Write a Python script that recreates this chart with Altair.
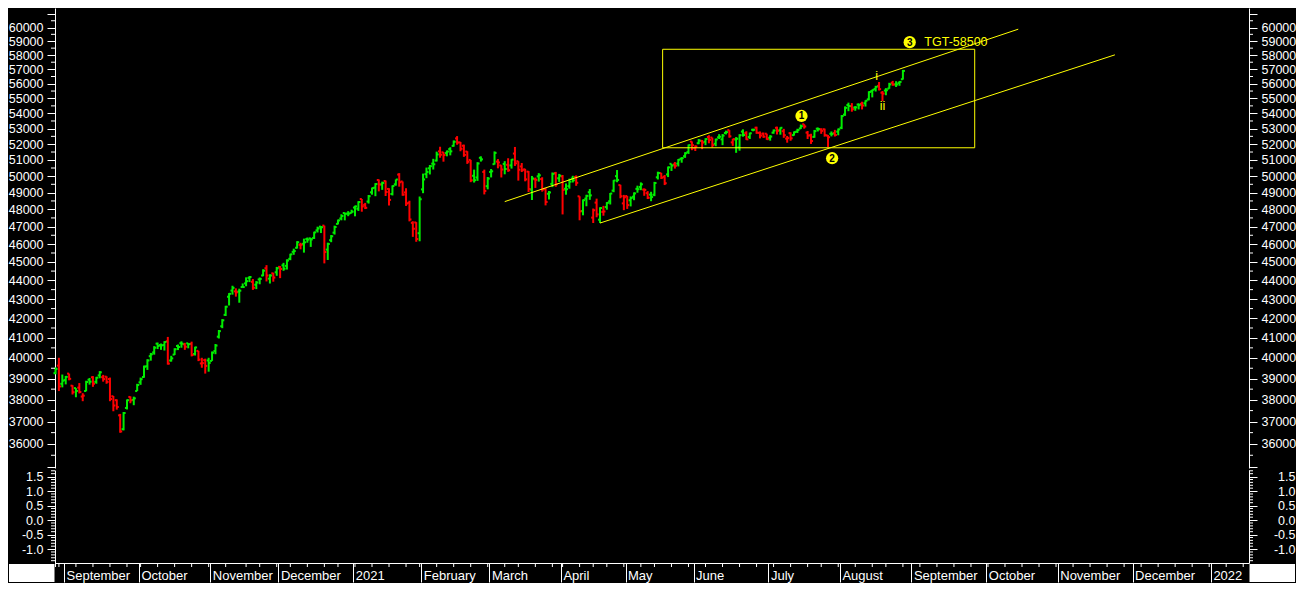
import altair as alt
import numpy as np
import pandas as pd

# ---------------- daily OHLC, 28 Aug 2020 .. 30 Aug 2021 ----------------
OPEN = [
    39264, 39627,
    38754, 38933, 39241, 38665, 38550, 38571, 38152, 38412, 38945, 39065, 38847, 39155, 39071, 39095, 38980, 38167, 37984, 37283, 36655, 37622, 38134, 37997,
    38410, 38823, 39078, 39599, 40090, 40275, 40709, 40640, 40640, 40830, 39877, 40167, 40595, 40731, 40677, 40726, 40703, 40197, 40351, 39734, 39896,
    39880, 39858, 40344, 41060, 41587, 42174, 43121, 43449, 43408, 43398, 43637, 43834, 44130, 43919, 43763, 44046, 44261, 44656, 44091, 44377,
    44436, 44733, 44818, 44786, 45175, 45563, 45793, 45958, 46013, 46284, 46325, 46348, 46780, 46996, 47055, 45689, 46222, 46650, 47154, 47466, 47789, 47753,
    47785, 48109, 48037, 48616, 48268, 48464, 49016, 49299, 49764, 49492, 49702, 49221, 48917, 49500, 50096, 49673, 49011, 48392, 47216, 47237,
    46617, 49193, 50122, 50483, 50772, 50965, 51544, 51483, 51433, 51685, 51893, 52368, 52114, 51898, 51530, 51003, 50020, 49917, 51138, 50257,
    49387, 50258, 50740, 50900, 50660, 50753, 50701, 50663, 51404, 50923, 50597, 50416, 50277, 49179, 49807, 49986, 49819, 49223, 48930, 49525, 50183,
    49868, 49982, 49229, 49386, 49848, 49949, 48778, 47900, 48640, 49022, 47519, 48401, 47397, 47854, 48142, 48480, 49119, 49998, 49452,
    48356, 48793, 48540, 48754, 49224, 49336, 49179, 48965, 48878, 48869, 49928, 50180, 49956, 50104, 50761, 50723, 50771, 51077, 51239, 51494,
    52163, 51741, 52059, 52211, 52151, 52460, 52422, 52020, 52441, 52307, 52715, 52902, 52113, 52302, 51793, 52808, 52708, 52458, 52924, 53057, 52726, 52671,
    52672, 52404, 52740, 53054, 52890, 52833, 52356, 52706, 52579, 52809, 53012, 53284, 52741, 52567, 52466, 52994, 52946, 52960, 52549, 52665, 52711,
    52805, 53058, 53921, 54557, 54480, 54386, 54587, 54641, 54676, 54940, 55493, 55647, 55855, 55389, 55537, 55670, 56060, 55958, 56049, 56312,
]
HIGH = [
    39542, 40010,
    39196, 39128, 39241, 38686, 38550, 38788, 38310, 38899, 39033, 39120, 39086, 39360, 39180, 39112, 39051, 38177, 38020, 37349, 37437, 38016, 38161, 38147,
    38753, 39050, 39630, 39939, 40250, 40585, 40764, 40717, 40833, 41048, 40108, 40481, 40666, 40827, 40750, 40734, 40810, 40557, 40352, 40010, 39968,
    40011, 40321, 40692, 41397, 41954, 42645, 43316, 43708, 43569, 43549, 43831, 44161, 44231, 44069, 43958, 44151, 44601, 44826, 44331, 44411,
    44730, 44777, 44953, 45148, 45458, 45742, 46164, 46073, 46309, 46373, 46350, 46705, 46992, 47026, 47055, 46080, 46513, 47053, 47406, 47714, 47807, 47897,
    47980, 48221, 48486, 48616, 48384, 48855, 49303, 49569, 49795, 49663, 49730, 49264, 49435, 49795, 50184, 49673, 49263, 48513, 47306, 47256,
    48764, 50154, 50526, 50687, 51073, 51523, 51835, 51499, 51598, 51804, 52236, 52516, 52141, 51969, 51552, 51003, 50401, 50863, 51228, 50400,
    49945, 50439, 51539, 51058, 50677, 50926, 51108, 51050, 51822, 50927, 50813, 50450, 50312, 50011, 49913, 50184, 49931, 49272, 49095, 50224, 50260,
    50136, 50071, 49553, 49844, 50020, 50045, 48778, 48590, 48867, 49218, 48051, 48637, 48127, 48210, 48431, 48975, 49757, 50375, 49470,
    48861, 48793, 48771, 49013, 49418, 49617, 49250, 49087, 49049, 49649, 50273, 50200, 50066, 50591, 50761, 50871, 51063, 51178, 51489, 51978,
    52174, 51929, 52328, 52269, 52378, 52577, 52422, 52352, 52641, 52646, 52869, 52902, 52342, 52452, 52636, 52954, 52831, 52741, 52993, 53127, 52815, 52746,
    52672, 52576, 52946, 53129, 53086, 52985, 52526, 52759, 52818, 52991, 53266, 53290, 52849, 52668, 52915, 53073, 53024, 53000, 52591, 52817, 52920,
    53008, 53888, 54465, 54717, 54686, 54486, 54671, 54780, 54874, 55488, 55605, 55854, 56118, 55503, 55700, 56065, 56198, 56174, 56193, 56958,
]
LOW = [
    39208, 38410,
    38584, 38726, 38919, 38248, 38119, 38298, 37935, 38402, 38715, 38610, 38756, 39018, 38857, 38755, 37935, 37470, 37545, 36495, 36600, 37553, 37840, 37749,
    38410, 38705, 39042, 39420, 39870, 40163, 40441, 40403, 40368, 39675, 39822, 40145, 40391, 40508, 40402, 40479, 40077, 40121, 39846, 39525, 39242,
    39334, 39858, 40186, 40969, 41491, 42114, 42663, 43233, 43128, 42806, 43609, 43681, 43905, 43485, 43527, 43787, 44219, 43939, 43827, 43926,
    44244, 44118, 44516, 44585, 45100, 45399, 45750, 45706, 45520, 46078, 45841, 46290, 46658, 46627, 44923, 45112, 46107, 46539, 47124, 47361, 47359, 47602,
    47771, 47594, 47904, 47864, 48020, 48344, 48873, 48784, 49073, 49165, 48795, 48229, 48829, 49418, 49357, 48809, 48204, 47300, 46410, 46130,
    46160, 48964, 49874, 50103, 50407, 50907, 51142, 50894, 51230, 51290, 51838, 51962, 51550, 51197, 50756, 49631, 49607, 49709, 50899, 48890,
    49196, 49920, 50715, 50481, 49918, 50111, 50267, 50464, 50628, 49725, 50251, 49682, 49036, 48556, 49283, 49663, 49056, 48236, 48588, 49331, 49353,
    49645, 47705, 48872, 49234, 49610, 49409, 47362, 47653, 48185, 48566, 47204, 47538, 47203, 47629, 47983, 48289, 49022, 49626, 48658,
    47955, 48028, 48176, 48544, 48991, 49145, 48807, 48614, 48485, 48786, 49794, 49824, 49454, 49942, 50318, 50465, 50598, 50830, 51133, 51380,
    51617, 51564, 51999, 51681, 51935, 52054, 51787, 51870, 52331, 51937, 52624, 52414, 51891, 51450, 51584, 52478, 52270, 52331, 52826, 52666, 52369, 52405,
    52276, 52223, 52670, 52621, 52607, 52407, 52094, 52219, 52546, 52718, 52972, 53000, 52331, 52013, 52410, 52817, 52663, 52478, 51802, 52498, 52488,
    52569, 52967, 53836, 54146, 54112, 54172, 54263, 54263, 54456, 54870, 55072, 55468, 55540, 54823, 55216, 55657, 55861, 55778, 55860, 56287,
]
CLOSE = [
    39467, 38628,
    38900, 39086, 38991, 38357, 38417, 38365, 38194, 38840, 38855, 38757, 39044, 39303, 38980, 38845, 38034, 37734, 37668, 36553, 37389, 37982, 37973, 38068,
    38697, 38974, 39574, 39879, 40183, 40509, 40594, 40626, 40795, 39728, 39983, 40432, 40544, 40708, 40558, 40686, 40146, 40522, 39922, 39750, 39614,
    39758, 40261, 40616, 41340, 41893, 42597, 43278, 43594, 43357, 43443, 43638, 43953, 44180, 43600, 43882, 44077, 44523, 44260, 44260, 44150,
    44655, 44618, 44632, 45080, 45426, 45608, 46103, 45960, 46099, 46253, 46263, 46666, 46890, 46961, 45554, 46007, 46444, 46973, 47354, 47613, 47746, 47751,
    47868, 48177, 48437, 48174, 48093, 48782, 49269, 49517, 49492, 49584, 49035, 48564, 49398, 49792, 49625, 48879, 48348, 47410, 46874, 46286,
    48601, 49798, 50256, 50614, 50732, 51349, 51329, 51309, 51532, 51544, 52154, 52104, 51704, 51324, 50890, 49744, 49751, 50781, 51039, 49100,
    49850, 50297, 51445, 50846, 50405, 50441, 50363, 51025, 50792, 50395, 50363, 49801, 49216, 49858, 49771, 50051, 49180, 48440, 49009, 50137, 49509,
    50030, 49159, 49202, 49662, 49746, 49591, 47883, 48544, 48804, 48832, 47949, 47706, 48080, 47878, 48387, 48944, 49734, 49766, 48782,
    48718, 48254, 48677, 48950, 49206, 49502, 49162, 48690, 48733, 49581, 50193, 49903, 49565, 50540, 50651, 50638, 51018, 51115, 51423, 51937,
    51935, 51849, 52232, 52100, 52328, 52275, 51941, 52300, 52474, 52551, 52773, 52501, 52323, 52344, 52574, 52588, 52306, 52699, 52925, 52735, 52549, 52482,
    52318, 52485, 52880, 52861, 53055, 52569, 52386, 52373, 52770, 52905, 53159, 53140, 52553, 52198, 52837, 52976, 52852, 52579, 52444, 52654, 52587,
    52951, 53823, 54370, 54493, 54278, 54403, 54555, 54526, 54844, 55437, 55582, 55792, 55629, 55329, 55555, 55958, 55944, 55949, 56125, 56890,
]

HOLIDAYS = ["2020-10-02", "2020-11-16", "2020-11-30", "2020-12-25", "2021-01-26",
            "2021-03-11", "2021-03-29", "2021-04-02", "2021-04-14", "2021-04-21",
            "2021-05-13", "2021-07-21", "2021-08-19"]
SPECIAL_SESSIONS = ["2020-11-14"]
MONTH_NAMES = ["January", "February", "March", "April", "May", "June", "July",
               "August", "September", "October", "November", "December"]

PRICE_MAJOR = list(range(35000, 61001, 1000))
PRICE_MINOR = list(range(35500, 61000, 1000))
LOW_MAJOR = [-1.0, -0.5, 0.0, 0.5, 1.0, 1.5]
LOW_MINOR = [-1.4, -1.3, -1.2, -1.1, -0.9, -0.8, -0.7, -0.6, -0.4, -0.3, -0.2, -0.1,
             0.1, 0.2, 0.3, 0.4, 0.6, 0.7, 0.8, 0.9, 1.1, 1.2, 1.3, 1.4, 1.6, 1.7]

# drawn trend channel, target box and wave labels (bar index, price)
LINE_NAMES = ["upper", "upper", "lower", "lower"]
LINE_X = [132.0, 282.9, 160.0, 311.3]
LINE_Y = [48460, 59878, 47203, 58022]
BOX_X = [178.4, 270.1]
BOX_Y = [51770, 58420]
WAVE_LABELS = ["1", "2", "3"]
WAVE_X = [219.2, 228.2, 251.0]
WAVE_Y = [53830, 51110, 58932]
NOTE_TEXT = ["TGT-58500", "i", "ii"]
NOTE_X = [255.3, 241.3, 243.0]
NOTE_Y = [58932, 56563, 54520]

GREEN, RED, YELLOW = "#00ee00", "#ff0000", "#ffff00"
FONT = "Liberation Sans, Arial, sans-serif"
W, H1, H2 = 1194, 460, 93
XMIN, XMAX = -0.15, 350.7

# ---------------- trading-day calendar ----------------
hol = set(HOLIDAYS)
past = [d for d in pd.bdate_range("2020-08-28", "2021-08-31") if d.strftime("%Y-%m-%d") not in hol]
past = sorted(past + [pd.Timestamp(s) for s in SPECIAL_SESSIONS])
future = list(pd.bdate_range("2021-09-01", "2022-01-31"))
cal = pd.DataFrame({"date": past + future})
cal["i"] = np.arange(len(cal))

n = len(OPEN)
bars = pd.DataFrame({"i": np.arange(n), "date": cal["date"][:n].values,
                     "open": OPEN, "high": HIGH, "low": LOW, "close": CLOSE})
prev = bars["close"].shift(1).fillna(bars["open"])
bars["dir"] = np.where(bars["close"] >= prev, "up", "down")

cal["ym"] = cal["date"].dt.to_period("M")
first_m = cal.groupby("ym")["i"].min()
first_m = first_m[first_m.index >= pd.Period("2020-09", "M")]
month_pos, month_lab = [], []
for p, v in first_m.items():
    pos = float(v) + 0.5
    if pos <= XMAX:
        month_pos.append(pos)
        month_lab.append(str(p.year) if p.month == 1 else MONTH_NAMES[p.month - 1])

cal["wk"] = cal["date"].dt.to_period("W-SUN")
first_w = cal.groupby("wk")["i"].min()
week_df = pd.DataFrame({"pos": first_w.values.astype(float)})
week_df = week_df[(week_df["pos"] >= XMIN) & (week_df["pos"] <= XMAX)]

# ---------------- scales and axes ----------------
xs = alt.Scale(domain=[XMIN, XMAX], nice=False, zero=False)
ys = alt.Scale(type="log", domain=[34950, 61454], nice=False)
yl = alt.Scale(domain=[-1.48, 1.727], nice=False, zero=False)
cs = alt.Scale(domain=["up", "down"], range=[GREEN, RED])

price_lbl = "datum.value < 35500 || datum.value > 60500 ? '' : format(datum.value, 'd')"
axis_pl = alt.Axis(orient="left", values=PRICE_MAJOR, labelExpr=price_lbl, tickSize=8,
                   labelPadding=4, title=None, labelOverlap=False)
axis_pr = alt.Axis(orient="right", values=PRICE_MAJOR, labelExpr=price_lbl, tickSize=8,
                   labelPadding=4, title=None, labelOverlap=False)
low_lbl = "datum.value < 0 ? '-' + format(-datum.value, '.1f') : format(datum.value, '.1f')"
axis_ll = alt.Axis(orient="left", values=LOW_MAJOR, labelExpr=low_lbl, tickSize=8,
                   labelPadding=4, title=None, labelOverlap=False)
axis_lr = alt.Axis(orient="right", values=LOW_MAJOR, labelExpr=low_lbl, tickSize=8,
                   labelPadding=38, labelAlign="right", title=None, labelOverlap=False)
x_expr = ("[" + ",".join("'%s'" % s for s in month_lab) + "][indexof(["
          + ",".join(str(v) for v in month_pos) + "], datum.value)]")
axis_x = alt.Axis(orient="bottom", values=month_pos, labelExpr=x_expr, tickSize=19,
                  labelAlign="left", labelBaseline="top", labelPadding=-13, labelOffset=2,
                  labelFlush=False, labelOverlap=False, labelFontSize=13, title=None)

# ---------------- price panel ----------------
base = alt.Chart(bars)
col = alt.Color("dir:N", scale=cs, legend=None)
hl = base.mark_rule(strokeWidth=2).encode(
    x=alt.X("i:Q", scale=xs, axis=None),
    y=alt.Y("low:Q", scale=ys, axis=axis_pl), y2="high:Q", color=col)
op = base.transform_calculate(xl="datum.i - 0.6").mark_rule(strokeWidth=2).encode(
    x=alt.X("xl:Q", scale=xs, axis=None), x2="i:Q",
    y=alt.Y("open:Q", scale=ys, axis=axis_pr), color=col)
clo = base.transform_calculate(xr="datum.i + 0.6").mark_rule(strokeWidth=2).encode(
    x=alt.X("i:Q", scale=xs, axis=None), x2="xr:Q",
    y=alt.Y("close:Q", scale=ys, axis=None), color=col)

pminor = pd.DataFrame({"v": PRICE_MINOR})
pm_l = alt.Chart(pminor).mark_rule(color="white", strokeWidth=1).encode(
    y=alt.Y("v:Q", scale=ys, axis=None), x=alt.value(-4), x2=alt.value(0))
pm_r = alt.Chart(pminor).mark_rule(color="white", strokeWidth=1).encode(
    y=alt.Y("v:Q", scale=ys, axis=None), x=alt.value(W), x2=alt.value(W + 4))

lines = pd.DataFrame({"line": LINE_NAMES, "x": LINE_X, "y": LINE_Y})
ln = alt.Chart(lines).mark_line(color=YELLOW, strokeWidth=1).encode(
    x=alt.X("x:Q", scale=xs, axis=None), y=alt.Y("y:Q", scale=ys, axis=None), detail="line:N")

box = pd.DataFrame({"x1": [BOX_X[0]], "x2": [BOX_X[1]], "y1": [BOX_Y[0]], "y2": [BOX_Y[1]]})
bx = alt.Chart(box).mark_rect(fillOpacity=0, stroke=YELLOW, strokeWidth=1).encode(
    x=alt.X("x1:Q", scale=xs, axis=None), x2="x2:Q",
    y=alt.Y("y1:Q", scale=ys, axis=None), y2="y2:Q")

waves = pd.DataFrame({"t": WAVE_LABELS, "x": WAVE_X, "y": WAVE_Y})
wc = alt.Chart(waves).mark_circle(size=150, color=YELLOW, opacity=1).encode(
    x=alt.X("x:Q", scale=xs, axis=None), y=alt.Y("y:Q", scale=ys, axis=None))
wt = alt.Chart(waves).mark_text(color="black", fontSize=10, fontWeight="bold", font=FONT,
                                baseline="middle", dy=0.5).encode(
    x=alt.X("x:Q", scale=xs, axis=None), y=alt.Y("y:Q", scale=ys, axis=None), text="t:N")

notes = pd.DataFrame({"t": NOTE_TEXT, "x": NOTE_X, "y": NOTE_Y})
tgt = alt.Chart(notes).transform_filter("datum.t == 'TGT-58500'").mark_text(
    color=YELLOW, fontSize=12.5, font=FONT, align="left", baseline="middle").encode(
    x=alt.X("x:Q", scale=xs, axis=None), y=alt.Y("y:Q", scale=ys, axis=None), text="t:N")
roman = alt.Chart(notes).transform_filter("datum.t != 'TGT-58500'").mark_text(
    color=YELLOW, fontSize=12.5, font=FONT, align="center", baseline="middle").encode(
    x=alt.X("x:Q", scale=xs, axis=None), y=alt.Y("y:Q", scale=ys, axis=None), text="t:N")

top = alt.layer(hl, op, clo, ln, bx, pm_l, pm_r, wc, wt, tgt, roman).properties(width=W, height=H1)

# ---------------- indicator panel + date axis ----------------
wk = alt.Chart(week_df).mark_rule(color="white", strokeWidth=1).encode(
    x=alt.X("pos:Q", scale=xs, axis=axis_x), y=alt.value(H2), y2=alt.value(H2 + 4))
lminor = pd.DataFrame({"v": LOW_MINOR})
lm_l = alt.Chart(lminor).mark_rule(color="white", strokeWidth=1).encode(
    y=alt.Y("v:Q", scale=yl, axis=axis_ll), x=alt.value(-4), x2=alt.value(0))
lm_r = alt.Chart(lminor).mark_rule(color="white", strokeWidth=1).encode(
    y=alt.Y("v:Q", scale=yl, axis=axis_lr), x=alt.value(W), x2=alt.value(W + 4))
corner_df = pd.DataFrame({"k": [0]})
c_left = alt.Chart(corner_df).mark_rect(color="white").encode(
    x=alt.value(-46), x2=alt.value(-0.5), y=alt.value(H2 + 1), y2=alt.value(H2 + 19))
c_right = alt.Chart(corner_df).mark_rect(color="white").encode(
    x=alt.value(W + 0.5), x2=alt.value(W + 46), y=alt.value(H2 + 1), y2=alt.value(H2 + 19))

bottom = alt.layer(wk, lm_l, lm_r, c_left, c_right).properties(width=W, height=H2)

chart = alt.vconcat(top, bottom, spacing=2, bounds="flush", padding=0, background="black")
chart = chart.configure_view(stroke=None).configure_axis(
    grid=False, domainColor="white", tickColor="white", labelColor="white",
    labelFont=FONT, labelFontSize=12.5, domainWidth=1, tickWidth=1)

chart.save("out.html", embed_options={"renderer": "svg", "actions": False})
